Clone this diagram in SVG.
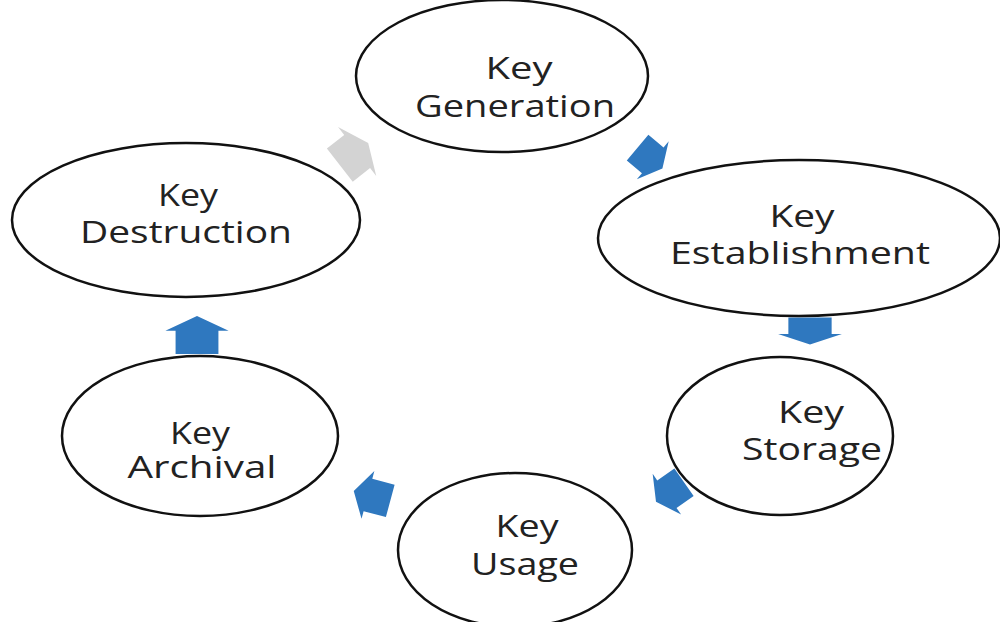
<svg xmlns="http://www.w3.org/2000/svg" width="1000" height="622" viewBox="0 0 1000 622">
  <style>
    .node ellipse { fill: #ffffff; stroke: #111111; stroke-width: 2.5; }
    .node text { font-family: "Open Sans", "Liberation Sans", sans-serif; font-size: 31px; fill: #222222; text-anchor: middle; }
    .arrow { fill: #2F78BF; }
    .arrow.faded { fill: #D3D3D3; }
  </style>
  <defs>
    <!-- block arrow pointing along +x, centred on the origin -->
    <path id="blockArrow" d="M-18,-21 L4,-21 L4,-31 L18,0 L4,31 L4,21 L-18,21 Z"/>
  </defs>
  <rect width="1000" height="622" fill="#ffffff"/>

  <g id="connectors">
    <use href="#blockArrow" class="arrow faded" transform="translate(354,154) rotate(-38)"/>
    <use href="#blockArrow" class="arrow" transform="translate(650,158) rotate(40) scale(0.9,0.8)"/>
    <use href="#blockArrow" class="arrow" transform="translate(810,331) rotate(90) scale(0.75,1.03)"/>
    <use href="#blockArrow" class="arrow" transform="translate(670,492) rotate(145) scale(0.95,0.8)"/>
    <use href="#blockArrow" class="arrow" transform="translate(372,496) rotate(-165) scale(1.05,0.8)"/>
    <use href="#blockArrow" class="arrow" transform="translate(197,335) rotate(-90) scale(1.05,1.02)"/>
  </g>

  <g id="key-generation" class="node">
    <ellipse cx="502" cy="76" rx="146" ry="76"/>
    <text x="519" y="79" textLength="67" lengthAdjust="spacingAndGlyphs">Key</text>
    <text x="515" y="117" textLength="200" lengthAdjust="spacingAndGlyphs">Generation</text>
  </g>

  <g id="key-establishment" class="node">
    <ellipse cx="799" cy="238" rx="201" ry="78"/>
    <text x="802" y="227" textLength="65" lengthAdjust="spacingAndGlyphs">Key</text>
    <text x="800" y="264" textLength="260" lengthAdjust="spacingAndGlyphs">Establishment</text>
  </g>

  <g id="key-storage" class="node">
    <ellipse cx="780" cy="436" rx="113" ry="79"/>
    <text x="811" y="423" textLength="66" lengthAdjust="spacingAndGlyphs">Key</text>
    <text x="812" y="460" textLength="140" lengthAdjust="spacingAndGlyphs">Storage</text>
  </g>

  <g id="key-usage" class="node">
    <ellipse cx="515" cy="550" rx="117" ry="77"/>
    <text x="527" y="537" textLength="63" lengthAdjust="spacingAndGlyphs">Key</text>
    <text x="525" y="575" textLength="108" lengthAdjust="spacingAndGlyphs">Usage</text>
  </g>

  <g id="key-archival" class="node">
    <ellipse cx="200" cy="436" rx="138" ry="80"/>
    <text x="200" y="444" textLength="60" lengthAdjust="spacingAndGlyphs">Key</text>
    <text x="202" y="478" textLength="149" lengthAdjust="spacingAndGlyphs">Archival</text>
  </g>

  <g id="key-destruction" class="node">
    <ellipse cx="186" cy="220" rx="174" ry="77"/>
    <text x="188" y="206" textLength="60" lengthAdjust="spacingAndGlyphs">Key</text>
    <text x="186" y="243" textLength="212" lengthAdjust="spacingAndGlyphs">Destruction</text>
  </g>
</svg>
